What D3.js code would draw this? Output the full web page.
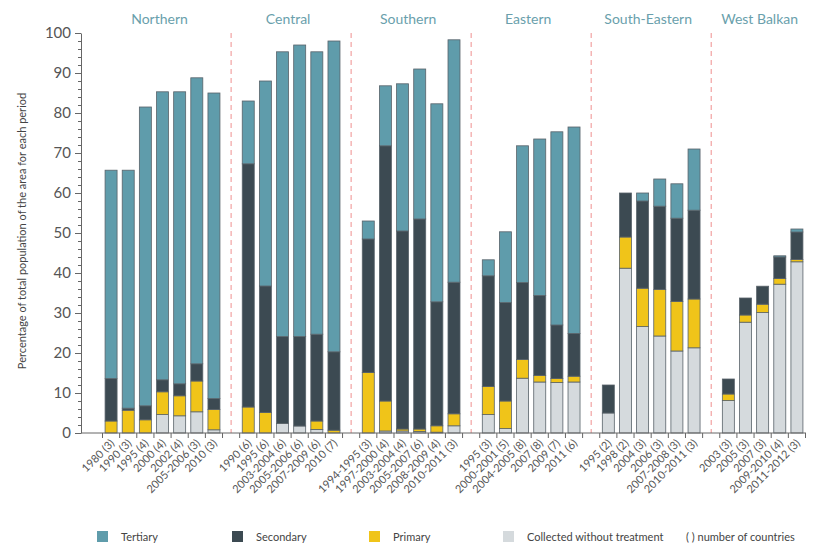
<!DOCTYPE html>
<html>
<head>
<meta charset="utf-8">
<script src="https://cdn.jsdelivr.net/npm/d3@7"></script>
<style>
  body { margin: 0; background: #fff; }
  svg { font-family: Lato, "Open Sans", sans-serif; }
</style>
</head>
<body>
<div id="chart"></div>
<script>
const regions = ["Northern", "Central", "Southern", "Eastern", "South-Eastern", "West Balkan"];

const periods = [
    ["1980 (3)", "1990 (3)", "1995 (4)", "2000 (4)", "2002 (4)", "2005-2006 (3)", "2010 (3)"],
    ["1990 (6)", "1995 (6)", "2003-2004 (6)", "2005-2006 (6)", "2007-2009 (6)", "2010 (7)"],
    ["1994-1995 (3)", "1997-2000 (4)", "2003-2004 (4)", "2005-2007 (6)", "2008-2009 (4)", "2010-2011 (3)"],
    ["1995 (3)", "2000-2001 (5)", "2004-2005 (8)", "2007 (8)", "2009 (7)", "2011 (6)"],
    ["1995 (2)", "1998 (2)", "2004 (3)", "2006 (3)", "2007-2008 (3)", "2010-2011 (3)"],
    ["2003 (3)", "2005 (3)", "2007 (3)", "2009-2010 (4)", "2011-2012 (3)"]
];

// values in the same order as the periods, region after region
const collected = [0, 0, 0, 4.6, 4.3, 5.3, 0.8,
    0, 0, 2.4, 1.75, 0.9, 0,
    0, 0.5, 0.5, 0.4, 0.2, 1.8,
    4.6, 1.1, 13.7, 12.75, 12.6, 12.75,
    5, 41.2, 26.6, 24.25, 20.5, 21.3,
    8.1, 27.7, 30.1, 37.2, 42.8];
const primary = [3, 5.7, 3.3, 5.7, 5, 7.7, 5.1,
    6.5, 5.1, 0, 0, 2.1, 0.7,
    15.1, 7.5, 0.5, 0.6, 1.6, 3,
    7, 6.9, 4.7, 1.65, 1, 1.45,
    0, 7.8, 9.6, 11.65, 12.4, 12.2,
    1.65, 1.8, 2.1, 1.4, 0.6];
const secondary = [10.6, 0.5, 3.5, 3, 3, 4.3, 2.7,
    60.8, 31.65, 21.7, 22.35, 21.7, 19.6,
    33.4, 63.8, 49.5, 52.5, 31, 32.9,
    27.7, 24.6, 19.2, 20, 13.4, 10.7,
    7, 11, 21.8, 20.8, 20.8, 22.2,
    3.75, 4.25, 4.5, 5.4, 6.85];
const tertiary = [52.1, 59.5, 74.7, 72, 73, 71.5, 76.4,
    15.7, 51.25, 71.2, 72.9, 70.6, 77.7,
    4.5, 15, 36.8, 37.5, 49.5, 60.6,
    4, 17.7, 34.2, 39.1, 48.3, 51.6,
    0, 0, 2, 6.8, 8.6, 15.3,
    0, 0, 0, 0.3, 0.75];

const seriesNames = ["Collected without treatment", "Primary", "Secondary", "Tertiary"];
const seriesColors = ["#d5dadd", "#f0c419", "#3c4a52", "#5f9cab"];
const legendOrder = ["Tertiary", "Secondary", "Primary", "Collected without treatment"];

const width = 824, height = 546;
const svg = d3.select("#chart").append("svg")
    .attr("width", width)
    .attr("height", height);

// flat rows, with an empty gap slot between regions
const rows = [];
const slots = [];
let k = 0;
regions.forEach((r, ri) => {
    periods[ri].forEach(p => {
        const key = r + "|" + p;
        rows.push({ key, region: r, label: p,
            "Collected without treatment": collected[k], "Primary": primary[k],
            "Secondary": secondary[k], "Tertiary": tertiary[k] });
        slots.push(key);
        k++;
    });
    if (ri < regions.length - 1) slots.push("gap" + ri);
});

const x = d3.scaleBand()
    .domain(slots)
    .range([102.5, 805.5])
    .padding(0);

const y = d3.scaleLinear()
    .domain([0, 100])
    .range([433, 33]);

const color = d3.scaleOrdinal().domain(seriesNames).range(seriesColors);

const stack = d3.stack().keys(seriesNames)(rows);

const barW = x.step() * 0.7;
const off = (x.step() - barW) / 2;

//dividers between the regions
svg.append("g")
  .selectAll("line")
  .data(slots.filter(s => s.startsWith("gap")))
  .join("line")
    .attr("x1", d => x(d) + x.step() / 2)
    .attr("x2", d => x(d) + x.step() / 2)
    .attr("y1", y(100))
    .attr("y2", y(0))
    .attr("stroke", "#ef8f8f")
    .attr("stroke-width", 1)
    .attr("stroke-dasharray", "5,4");

//stacked bars
svg.append("g")
  .selectAll("g")
  .data(stack)
  .join("g")
    .attr("fill", d => color(d.key))
  .selectAll("rect")
  .data(d => d.filter(s => s[1] - s[0] > 0))
  .join("rect")
    .attr("x", d => x(d.data.key) + off)
    .attr("y", d => y(d[1]))
    .attr("width", barW)
    .attr("height", d => y(d[0]) - y(d[1]))
    .attr("stroke", "#59636a")
    .attr("stroke-width", 0.8);

//y axis with minor ticks
svg.append("g")
    .attr("transform", "translate(81,0)")
    .call(d3.axisLeft(y).tickValues(d3.range(0, 101, 2)).tickSize(3).tickFormat(""))
    .call(g => g.select(".domain").remove())
    .selectAll("line").attr("stroke", "#666");

const yAxis = svg.append("g")
    .attr("transform", "translate(81,0)")
    .call(d3.axisLeft(y).tickValues(d3.range(0, 101, 10)).tickSize(6).tickSizeOuter(0).tickPadding(4));
yAxis.select(".domain").attr("stroke", "#666");
yAxis.selectAll("line").attr("stroke", "#666");
yAxis.selectAll("text")
    .attr("fill", "#555")
    .style("font-size", "15px")
    .style("font-family", "Lato, sans-serif");

//x axis line and ticks at slot edges
svg.append("line")
    .attr("x1", 81).attr("x2", 806)
    .attr("y1", y(0)).attr("y2", y(0))
    .attr("stroke", "#666");

const edges = slots.map(s => x(s)).concat([x(slots[slots.length - 1]) + x.step()]);
svg.append("g")
  .selectAll("line")
  .data(edges)
  .join("line")
    .attr("x1", d => d).attr("x2", d => d)
    .attr("y1", y(0)).attr("y2", y(0) + 5)
    .attr("stroke", "#666");

//rotated period labels
svg.append("g")
  .selectAll("text")
  .data(rows)
  .join("text")
    .attr("transform", d => `translate(${x(d.key) + x.step() / 2 + 4},${y(0) + 11}) rotate(-45)`)
    .attr("text-anchor", "end")
    .attr("fill", "#555")
    .style("font-size", "11px")
    .text(d => d.label);

//region titles
svg.append("g")
  .selectAll("text")
  .data(regions)
  .join("text")
    .attr("x", r => {
        const keys = rows.filter(d => d.region === r).map(d => d.key);
        return (x(keys[0]) + off + x(keys[keys.length - 1]) + off + barW) / 2 - 3;
    })
    .attr("y", 24)
    .attr("text-anchor", "middle")
    .attr("fill", "#6a9fac")
    .style("font-size", "14px")
    .text(r => r);

//y axis title
svg.append("text")
    .attr("transform", "rotate(-90)")
    .attr("x", -231)
    .attr("y", 26)
    .attr("text-anchor", "middle")
    .attr("fill", "#444")
    .style("font-size", "11px")
    .text("Percentage of total population of the area for each period");

//legend
const legendX = [97, 232, 369, 503];
const legend = svg.append("g")
  .selectAll("g")
  .data(legendOrder)
  .join("g")
    .attr("transform", (d, i) => `translate(${legendX[i]},531)`);

legend.append("rect")
    .attr("width", 11)
    .attr("height", 11)
    .attr("fill", d => color(d));

legend.append("text")
    .attr("x", 24)
    .attr("y", 10)
    .attr("fill", "#444")
    .style("font-size", "11px")
    .text(d => d);

svg.append("text")
    .attr("x", 686)
    .attr("y", 541)
    .attr("fill", "#444")
    .style("font-size", "11px")
    .text("( ) number of countries");
</script>
</body>
</html>
